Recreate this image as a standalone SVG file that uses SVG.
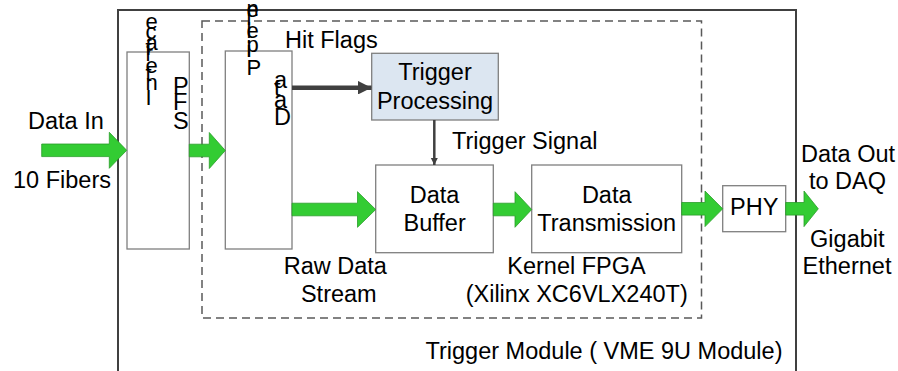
<svg xmlns="http://www.w3.org/2000/svg" width="898" height="371" viewBox="0 0 898 371">
<defs>
<style>
text{font-family:"Liberation Sans",Arial,sans-serif;font-size:23.5px;fill:#000}
.c{text-anchor:middle}
.box{fill:#fff;stroke:#7f7f7f;stroke-width:1.3}
.fat{fill:#33cc33;stroke:#2a9d2a;stroke-width:0.8}
.dark{stroke:#404040;fill:none}
</style>
<marker id="ah" viewBox="0 0 10 10" refX="10" refY="5" markerWidth="3" markerHeight="3" orient="auto" markerUnits="strokeWidth">
<path d="M0,0 L10,5 L0,10 Z" fill="#404040"/>
</marker>
<marker id="ah2" viewBox="0 0 10 10" refX="10" refY="5" markerWidth="3" markerHeight="3.3" orient="auto" markerUnits="strokeWidth">
<path d="M0,0 L10,5 L0,10 Z" fill="#404040"/>
</marker>
</defs>
<rect width="898" height="371" fill="#fff"/>

<g id="trigger-module">
<rect x="118" y="10" width="678" height="420" fill="none" stroke="#404040" stroke-width="2"/>
<text class="c" x="604" y="359">Trigger Module ( VME 9U Module)</text>
</g>

<g id="kernel-fpga">
<rect x="202" y="21" width="499.5" height="297" fill="none" stroke="#595959" stroke-width="1.5" stroke-dasharray="8,5"/>
<text class="c" x="576.5" y="274">Kernel FPGA</text>
<text class="c" x="576.7" y="302">(Xilinx XC6VLX240T)</text>
</g>

<g id="sfp-interface">
<rect class="box" x="127" y="52" width="62.3" height="197"/>
<text x="145.5 145.5 145.5 145.5 145.5 145.5 145.5 145.5 145.5" y="28.7 38.5 49.7 55 61 73 81 90 105" style="font-size:22px">ecafretnI</text>
<text x="173 173 173" y="94 110 129">PFS</text>
</g>

<g id="data-pipeline">
<rect class="box" x="225.3" y="51" width="66.7" height="198"/>
<text x="246.5 246.5 246.5 246.5 246.5 246.5 246.5 246.5" y="17 16 25 38 38 52 57 75" style="font-size:22px">enilepiP</text>
<text x="274 274 274 274" y="88 96 108 125">ataD</text>
</g>

<g id="trigger-processing">
<rect x="371.7" y="53.3" width="126.6" height="66.7" fill="#dce6f1" stroke="#7f7f7f" stroke-width="1.3"/>
<text class="c" x="435" y="80">Trigger</text>
<text class="c" x="435" y="108.5">Processing</text>
</g>

<g id="data-buffer">
<rect class="box" x="375.7" y="165" width="117.6" height="87.7"/>
<text class="c" x="434.6" y="203">Data</text>
<text class="c" x="434.6" y="231">Buffer</text>
</g>

<g id="data-transmission">
<rect class="box" x="531.7" y="165" width="150" height="87.7"/>
<text class="c" x="606.7" y="203">Data</text>
<text class="c" x="606.7" y="231">Transmission</text>
</g>

<g id="phy">
<rect class="box" x="722.7" y="185.7" width="63" height="46"/>
<text class="c" x="754.2" y="215">PHY</text>
</g>

<g id="connectors">
<path class="fat" d="M41.7,144 L109.3,144 L109.3,132.3 L126.7,150.3 L109.3,168.3 L109.3,156.6 L41.7,156.6 Z"/>
<path class="fat" d="M189.3,144.2 L209.3,144.2 L209.3,132.5 L225.3,150.5 L209.3,168.5 L209.3,156.8 L189.3,156.8 Z"/>
<path class="fat" d="M292,203.2 L357.5,203.2 L357.5,191.7 L375.7,209.5 L357.5,227.3 L357.5,215.8 L292,215.8 Z"/>
<path class="fat" d="M493.3,203.2 L515,203.2 L515,191.7 L531.7,209.5 L515,227.3 L515,215.8 L493.3,215.8 Z"/>
<path class="fat" d="M681.7,202.5 L705,202.5 L705,191 L722.7,208.8 L705,226.6 L705,215.1 L681.7,215.1 Z"/>
<path class="fat" d="M785.7,202.5 L804,202.5 L804,191 L818.3,208.8 L804,226.6 L804,215.1 L785.7,215.1 Z"/>
<line class="dark" x1="292" y1="87.7" x2="371.5" y2="87.7" stroke-width="4.5" marker-end="url(#ah)"/>
<line class="dark" x1="434.3" y1="120" x2="434.3" y2="165" stroke-width="2.5" marker-end="url(#ah2)"/>
</g>

<g id="labels">
<text x="28" y="129">Data In</text>
<text x="13" y="188">10 Fibers</text>
<text x="285" y="48">Hit Flags</text>
<text x="452" y="148.5">Trigger Signal</text>
<text class="c" x="335.3" y="274">Raw Data</text>
<text class="c" x="338.8" y="302">Stream</text>
<text class="c" x="848" y="162">Data Out</text>
<text class="c" x="847.5" y="189"> to DAQ</text>
<text class="c" x="847.3" y="246.7">Gigabit</text>
<text class="c" x="847" y="273.5">Ethernet</text>
</g>
</svg>
